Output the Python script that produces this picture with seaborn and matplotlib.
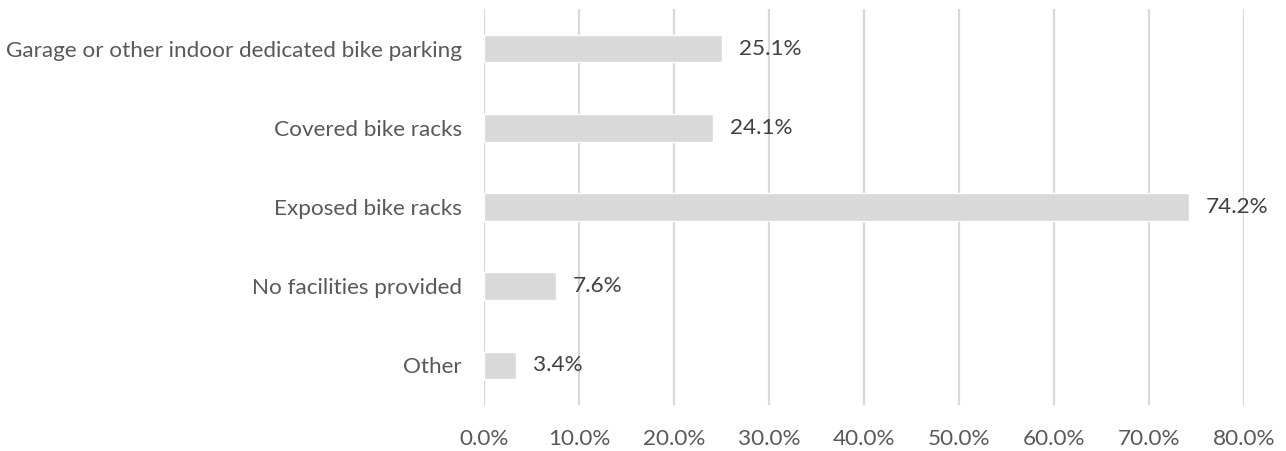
import pandas as pd
import seaborn as sns
import matplotlib.pyplot as plt
from matplotlib.ticker import FuncFormatter

categories = [
    "Garage or other indoor dedicated bike parking",
    "Covered bike racks",
    "Exposed bike racks",
    "No facilities provided",
    "Other",
]
values = [25.1, 24.1, 74.2, 7.6, 3.4]

df = pd.DataFrame({"facility": categories, "pct": values})

sns.set_style("white")
plt.rcParams["font.family"] = ["Lato", "DejaVu Sans"]

fig = plt.figure(figsize=(12.86, 4.51), dpi=100)
ax = fig.add_axes([0.3764, 0.102, 0.5909, 0.878])

sns.barplot(data=df, x="pct", y="facility", color="#D9D9D9", width=0.35,
            saturation=1, ax=ax, zorder=3)

ax.set_xlim(0, 80)
ax.set_ylim(4.5, -0.5)
ax.set_xticks(range(0, 81, 10))
ax.xaxis.set_major_formatter(FuncFormatter(lambda v, p: f"{v:.1f}%"))
ax.grid(axis="x", color="#D9D9D9", linewidth=1.6, zorder=0)
ax.grid(axis="y", visible=False)
ax.set_axisbelow(True)
for s in ax.spines.values():
    s.set_visible(False)
ax.set_xlabel("")
ax.set_ylabel("")
ax.tick_params(axis="x", length=0, pad=17, labelsize=16.2, labelcolor="#595959")
ax.tick_params(axis="y", length=0, pad=16, labelsize=16.2, labelcolor="#595959")

for i, v in enumerate(values):
    ax.annotate(f"{v:.1f}%", xy=(v, i), xytext=(12, 0), textcoords="offset points",
                va="center", ha="left", fontsize=16.2, color="#404040")

fig.savefig("out.png", dpi=100)
